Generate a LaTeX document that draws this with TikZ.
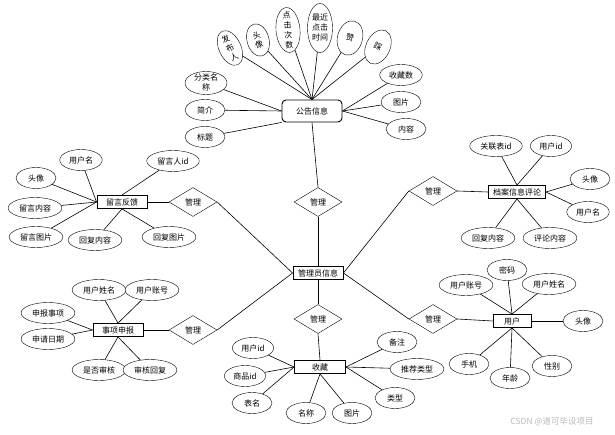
\documentclass[tikz,border=0pt]{standalone}
\usepackage{fontspec}
\newfontfamily\cjk{Noto Sans CJK SC}
\usetikzlibrary{shapes.geometric}
\newcommand\stk[1]{\makebox[0pt]{\raisebox{-3pt}[0pt][0pt]{\begin{tabular}{@{}c@{}}#1\end{tabular}}}}
\begin{document}
\begin{tikzpicture}[x=1pt,y=-1pt,
  every node/.style={font=\cjk\fontsize{8}{10}\selectfont},
  attr/.style={draw,ellipse,fill=white,minimum width=40pt,minimum height=21pt,inner xsep=3pt,inner ysep=0pt},
  tall/.style={draw,ellipse,fill=white,inner sep=0pt},
  ent/.style={draw,rectangle,fill=white,line width=0.9pt,minimum height=13pt,inner xsep=3pt,inner ysep=0pt},
  rel/.style={draw,diamond,fill=white,minimum width=48pt,minimum height=29pt,inner sep=0pt},
  link/.style={line width=0.6pt}]
\useasboundingbox (0,0) rectangle (615,435);
\node[ent,minimum width=50pt] (adm) at (318,273) {管理员信息};
\node[rel] (r1) at (318,202) {管理};
\node[rel] (r2) at (193,202) {管理};
\node[rel] (r3) at (193,330) {管理};
\node[rel] (r4) at (433,191) {管理};
\node[rel] (r5) at (433,319) {管理};
\node[rel] (r6) at (318,319) {管理};
\node[ent,rounded corners=4pt,minimum width=60pt,minimum height=22pt] (gg) at (312,111) {公告信息};
\node[attr,minimum width=42pt,minimum height=23pt] (gg1) at (206,83) {\stk{分类名\\称}};
\node[attr] (gg2) at (205,110) {简介};
\node[attr] (gg3) at (205,137) {标题};
\node[tall,rotate=25,minimum width=22pt,minimum height=37pt] (gg4) at (230,48) {\stk{发\\布\\人}};
\node[tall,rotate=15,minimum width=22pt,minimum height=33pt] (gg5) at (258,40) {\stk{头\\像}};
\node[tall,rotate=5,minimum width=24pt,minimum height=45pt] (gg6) at (288,30) {\stk{点\\击\\次\\数}};
\node[tall,minimum width=25pt,minimum height=49pt] (gg7) at (320,28) {\stk{最近\\点击\\时间}};
\node[tall,rotate=-15,minimum width=25pt,minimum height=35pt] (gg8) at (350,38) {赞};
\node[tall,rotate=-25,minimum width=24pt,minimum height=36pt] (gg9) at (378,47) {踩};
\node[attr] (gg10) at (401,75) {收藏数};
\node[attr] (gg11) at (401,102) {图片};
\node[attr] (gg12) at (406,129) {内容};
\node[ent,minimum width=50pt] (ly) at (122,202) {留言反馈};
\node[attr] (ly1) at (81,160) {用户名};
\node[attr] (ly2) at (173,161) {留言人id};
\node[attr] (ly3) at (36,178) {头像};
\node[attr] (ly4) at (35,208) {留言内容};
\node[attr] (ly5) at (36,237) {留言图片};
\node[attr] (ly6) at (95,240) {回复内容};
\node[attr] (ly7) at (169,237) {回复图片};
\node[ent,minimum width=57pt] (pl) at (517,192) {档案信息评论};
\node[attr] (pl1) at (496,146) {关联表id};
\node[attr] (pl2) at (551,146) {用户id};
\node[attr] (pl3) at (590,179) {头像};
\node[attr] (pl4) at (588,212) {用户名};
\node[attr] (pl5) at (488,238) {回复内容};
\node[attr] (pl6) at (550,238) {评论内容};
\node[ent,minimum width=38pt] (yh) at (512,321) {用户};
\node[attr] (yh1) at (466,285) {用户账号};
\node[attr] (yh2) at (507,270) {密码};
\node[attr] (yh3) at (549,284) {用户姓名};
\node[attr] (yh4) at (583,321) {头像};
\node[attr] (yh5) at (469,364) {手机};
\node[attr] (yh6) at (510,378) {年龄};
\node[attr] (yh7) at (552,366) {性别};
\node[ent,minimum width=50pt] (sb) at (118,330) {事项申报};
\node[attr] (sb1) at (99,290) {用户姓名};
\node[attr] (sb2) at (152,290) {用户账号};
\node[attr] (sb3) at (48,313) {申报事项};
\node[attr] (sb4) at (48,339) {申请日期};
\node[attr] (sb5) at (99,370) {是否审核};
\node[attr] (sb6) at (150,370) {审核回复};
\node[ent,minimum width=51pt] (sc) at (320,367) {收藏};
\node[attr] (sc1) at (253,348) {用户id};
\node[attr] (sc2) at (245,376) {商品id};
\node[attr] (sc3) at (252,403) {表名};
\node[attr] (sc4) at (306,413) {名称};
\node[attr] (sc5) at (352,413) {图片};
\node[attr] (sc6) at (395,398) {类型};
\node[attr] (sc7) at (417,369) {推荐类型};
\node[attr] (sc8) at (397,342) {备注};
\node[text=gray!55,font=\cjk\fontsize{8.5}{10}\selectfont] (wm) at (552,422) {CSDN @道可毕设项目};
\draw[link] (r1) -- (adm.north);
\draw[link] (r6) -- (adm.south);
\draw[link] (r2.east) -- (adm.west);
\draw[link] (r3.east) -- (adm.west);
\draw[link] (r4.west) -- (adm.east);
\draw[link] (r5.west) -- (adm.east);
\draw[link] (gg.south) -- (r1.north);
\draw[link] (gg1) -- (gg.west);
\draw[link] (gg2) -- (gg.west);
\draw[link] (gg3) -- (gg.south west);
\draw[link] (gg4) -- (gg.north);
\draw[link] (gg5) -- (gg.north);
\draw[link] (gg6) -- (gg.north);
\draw[link] (gg7) -- (gg.north);
\draw[link] (gg8) -- (gg.north);
\draw[link] (gg9) -- (gg.north);
\draw[link] (gg10) -- (gg.east);
\draw[link] (gg11) -- (gg.east);
\draw[link] (gg12) -- (gg.east);
\draw[link] (ly.east) -- (r2.west);
\draw[link] (ly1) -- (ly.west);
\draw[link] (ly2) -- (ly.north);
\draw[link] (ly3) -- (ly.west);
\draw[link] (ly4) -- (ly.west);
\draw[link] (ly5) -- (ly.west);
\draw[link] (ly6) -- (ly.south);
\draw[link] (ly7) -- (ly.south);
\draw[link] (r4.east) -- (pl.west);
\draw[link] (pl1) -- (pl.north);
\draw[link] (pl2) -- (pl.north);
\draw[link] (pl3) -- (pl.east);
\draw[link] (pl4) -- (pl.east);
\draw[link] (pl5) -- (pl.south);
\draw[link] (pl6) -- (pl.south);
\draw[link] (r5.east) -- (yh.west);
\draw[link] (yh1) -- (yh.north);
\draw[link] (yh2) -- (yh.north);
\draw[link] (yh3) -- (yh.north);
\draw[link] (yh4) -- (yh.east);
\draw[link] (yh5) -- (yh.south);
\draw[link] (yh6) -- (yh.south);
\draw[link] (yh7) -- (yh.south);
\draw[link] (sb.east) -- (r3.west);
\draw[link] (sb1) -- (sb.north);
\draw[link] (sb2) -- (sb.north);
\draw[link] (sb3) -- (sb.west);
\draw[link] (sb4) -- (sb.west);
\draw[link] (sb5) -- (sb.south);
\draw[link] (sb6) -- (sb.south);
\draw[link] (r6.south) -- (sc.north);
\draw[link] (sc1) -- (sc.west);
\draw[link] (sc2) -- (sc.west);
\draw[link] (sc3) -- (sc.west);
\draw[link] (sc4) -- (sc.south);
\draw[link] (sc5) -- (sc.south);
\draw[link] (sc6) -- (sc.east);
\draw[link] (sc7) -- (sc.east);
\draw[link] (sc8) -- (sc.east);
\end{tikzpicture}
\end{document}
